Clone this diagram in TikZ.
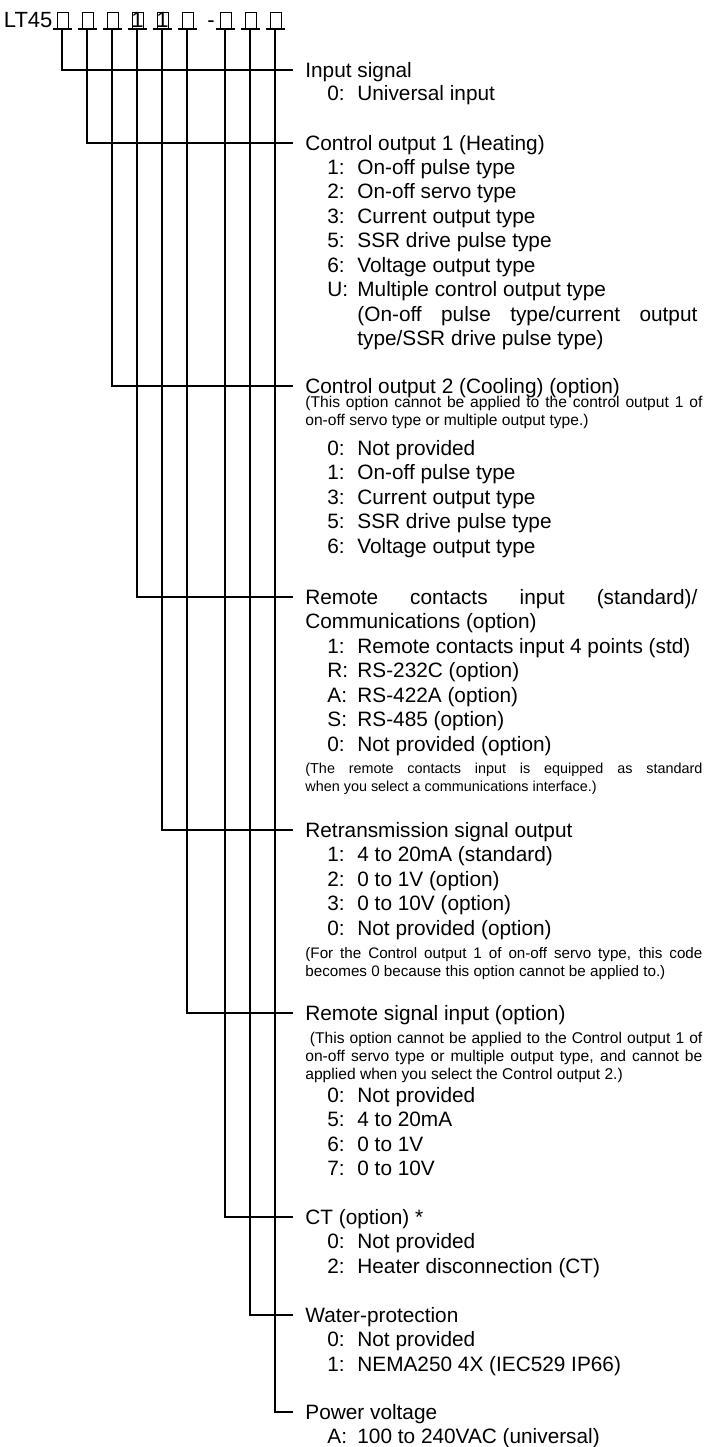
\documentclass[tikz,border=0pt]{standalone}
\usepackage{fontspec}
\setmainfont{Liberation Sans}
\hyphenpenalty=10000
\exhyphenpenalty=10000

\begin{document}
\begin{tikzpicture}[x=0.5pt,y=-0.5pt,
    wire/.style={line width=0.6pt},
    codebox/.style={draw,line width=0.5pt,inner sep=0pt,minimum width=5.5pt,minimum height=8pt},
    head/.style={anchor=base west,inner sep=0pt,font=\fontsize{10.4}{12.25}\selectfont},
    model/.style={head,font=\fontsize{11}{12}\selectfont},
    item/.style={head},
    note/.style={anchor=base west,inner sep=0pt,text width=198.5pt,align=justify,
        font=\fontsize{7.8}{9}\selectfont}]
\useasboundingbox (0,0) rectangle (705,1447);

\node[model] (code) at (3.5,27) {LT45};
\foreach \i/\x in {1/62,2/87,3/112,4/137,5/162,6/187,7/225,8/250,9/275}
    {\node[codebox] (b\i) at (\x+0.5,20) {};
     \coordinate (u\i) at (\x,29);
     \draw[wire] ([xshift=-4.75pt]u\i) -- ([xshift=4.75pt]u\i);}
\node[model,anchor=base] (one4) at (137.5,27) {1};
\node[model,anchor=base] (one5) at (162.5,27) {1};
\node[model] (dash) at (207,27) {-};

\node[head] (h1) at (305,77) {Input signal};
\node[head] (h2) at (305,150) {Control output 1 (Heating)};
\node[head] (h3) at (305,393) {Control output 2 (Cooling) (option)};
\node[head] (h4) at (305,604) {\makebox[196pt][s]{Remote contacts input (standard)/}};
\node[head] (h5) at (305,837) {Retransmission signal output};
\node[head] (h6) at (305,1020) {Remote signal input (option)};
\node[head] (h7) at (305,1224) {CT (option) *};
\node[head] (h8) at (305,1322) {Water-protection};
\node[head] (h9) at (305,1419) {Power voltage};

\foreach \i in {1,...,9}
    {\draw[wire] (u\i) |- ([shift={(-12,-7)}]h\i.base west);}

\foreach \y/\c/\t [count=\n] in {100/0/Universal input}
    {\node[item] (s1-\n) at (327,\y) {\makebox[15pt][l]{\c:}\t};}

\foreach \y/\c/\t [count=\n] in {174/1/On-off pulse type,198.5/2/On-off servo type,
    223/3/Current output type,247.5/5/SSR drive pulse type,272/6/Voltage output type,
    296.5/U/Multiple control output type}
    {\node[item] (s2-\n) at (327,\y) {\makebox[15pt][l]{\c:}\t};}
\node[item] (s2-c1) at (357,321) {\makebox[170pt][s]{(On-off pulse type/current output}};
\node[item] (s2-c2) at (357,345.5) {type/SSR drive pulse type)};

\node[note] (n3) at (305,407.5) {(This option cannot be applied to the control output 1 of\linebreak
    on-off servo type or multiple output type.)};
\foreach \y/\c/\t [count=\n] in {455/0/Not provided,479.5/1/On-off pulse type,
    504/3/Current output type,528.5/5/SSR drive pulse type,553/6/Voltage output type}
    {\node[item] (s3-\n) at (327,\y) {\makebox[15pt][l]{\c:}\t};}

\node[item] (h4b) at (305,628.5) {Communications (option)};
\foreach \y/\c/\t [count=\n] in {653/1/Remote contacts input 4 points (std),
    677.5/R/RS-232C (option),702/A/RS-422A (option),726.5/S/RS-485 (option),
    751/0/Not provided (option)}
    {\node[item] (s4-\n) at (327,\y) {\makebox[15pt][l]{\c:}\t};}
\node[note,font=\fontsize{7.2}{9}\selectfont] (n4) at (305,773.5)
    {(The remote contacts input is equipped as standard\linebreak
    when you select a communications interface.)};

\foreach \y/\c/\t [count=\n] in {861.5/1/4 to 20mA (standard),886/2/0 to 1V (option),
    910.5/3/0 to 10V (option),935/0/Not provided (option)}
    {\node[item] (s5-\n) at (327,\y) {\makebox[15pt][l]{\c:}\t};}
\node[note,font=\fontsize{7.6}{9}\selectfont] (n5) at (305,958.5)
    {(For the Control output 1 of on-off servo type, this code\linebreak
    becomes 0 because this option cannot be applied to.)};

\node[note] (n6) at (305,1043.5) {\hspace*{2.25pt}(This option cannot be applied to the Control output 1 of\linebreak
    on-off servo type or multiple output type, and cannot be\linebreak
    applied when you select the Control output 2.)};
\foreach \y/\c/\t [count=\n] in {1102/0/Not provided,1126.5/5/4 to 20mA,
    1151/6/0 to 1V,1175.5/7/0 to 10V}
    {\node[item] (s6-\n) at (327,\y) {\makebox[15pt][l]{\c:}\t};}

\foreach \y/\c/\t [count=\n] in {1248.5/0/Not provided,1273/2/Heater disconnection (CT)}
    {\node[item] (s7-\n) at (327,\y) {\makebox[15pt][l]{\c:}\t};}

\foreach \y/\c/\t [count=\n] in {1346.5/0/Not provided,1371/1/NEMA250 4X (IEC529 IP66)}
    {\node[item] (s8-\n) at (327,\y) {\makebox[15pt][l]{\c:}\t};}

\foreach \y/\c/\t [count=\n] in {1443.5/A/100 to 240VAC (universal)}
    {\node[item] (s9-\n) at (327,\y) {\makebox[15pt][l]{\c:}\t};}

\end{tikzpicture}
\end{document}
